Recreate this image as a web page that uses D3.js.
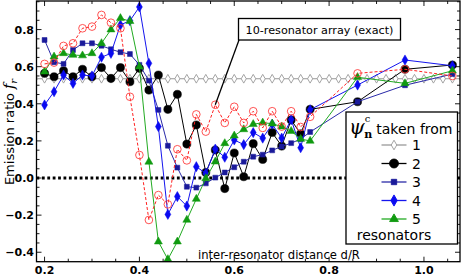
<!DOCTYPE html>
<html><head><meta charset="utf-8">
<script src="https://cdn.jsdelivr.net/npm/d3@7"></script>
<style>body{margin:0;background:#fff}svg{display:block}</style>
</head><body><svg id="c" width="462" height="275"></svg>
<script>
// ---- data ----
const xDense = [0.20,0.22,0.24,0.26,0.28,0.30,0.32,0.34,0.36,0.38,0.40,0.42,0.44,0.46,0.48,0.50,0.52,0.54,0.56,0.58,0.60,0.62,0.64,0.66,0.68,0.70,0.72,0.74,0.76,0.86,0.96,1.06];
const xGray = [0.18,0.20,0.22,0.24,0.26,0.28,0.30,0.32,0.34,0.36,0.38,0.40,0.42,0.44,0.46,0.48,0.50,0.52,0.54,0.56,0.58,0.60,0.62,0.64,0.66,0.68,0.70,0.72,0.74,0.76,0.78,0.80,0.82,0.84,0.86,0.88,0.90,0.92,0.94,0.96,0.98,1.00,1.02,1.04,1.06,1.08];
const s1 = [0.535,0.535,0.535,0.535,0.535,0.535,0.535,0.535,0.535,0.535,0.535,0.535,0.535,0.535,0.535,0.535,0.535,0.535,0.535,0.535,0.535,0.535,0.535,0.535,0.535,0.535,0.535,0.535,0.535,0.535,0.535,0.535,0.535,0.535,0.535,0.535,0.535,0.535,0.535,0.535,0.535,0.535,0.535,0.535,0.535,0.535];
const s2 = [0.564,0.546,0.578,0.546,0.586,0.546,0.595,0.537,0.595,0.519,0.591,0.474,0.555,0.37,0.451,0.183,0.286,0.03,0.151,-0.057,0.135,0.007,0.185,0.10,0.245,0.172,0.313,0.238,0.37,0.411,0.586,0.609];
const s3 = [0.744,0.624,0.615,0.69,0.726,0.726,0.713,0.694,0.678,0.668,0.61,0.525,0.367,0.174,0.056,-0.047,-0.052,-0.029,0.002,0.03,0.058,0.088,0.115,0.126,0.149,0.17,0.188,0.21,0.248,0.411,0.50,0.56];
const s4 = [0.394,0.465,0.555,0.51,0.555,0.55,0.651,0.672,0.825,0.848,0.922,0.618,0.277,-0.196,-0.1,-0.151,0.061,0.025,0.156,0.112,0.205,0.18,0.245,0.215,0.29,0.215,0.315,0.163,0.368,0.501,0.636,0.605];
const s5 = [0.573,0.654,0.672,0.663,0.66,0.672,0.726,0.80,0.861,0.845,0.6,0.087,-0.343,-0.438,-0.343,-0.226,-0.113,-0.002,0.088,0.187,0.228,0.262,0.29,0.298,0.293,0.277,0.253,0.21,0.2,0.543,0.51,0.578];
const exact = [0.615,0.622,0.712,0.726,0.807,0.816,0.879,0.837,0.807,0.438,0.124,-0.226,-0.092,-0.142,0.155,0.095,0.343,0.25,0.395,0.297,0.384,0.297,0.36,0.27,0.36,0.277,0.36,0.275,0.33,0.564,0.586,0.55];
const xTicks = [0.2,0.4,0.6,0.8,1.0];
const yTicks = [-0.4,-0.2,0.0,0.2,0.4,0.6,0.8];
const legendLabels = ["1","2","3","4","5"];
const annotationText = "10-resonator array (exact)";
const annotationIndex = 18; // x = 0.56 on the exact curve

// ---- layout ----
const svg = d3.select("#c");
const L = 36.5, R = 460, T = 1, B = 261.7;
const x = d3.scaleLinear().domain([0.183, 1.076]).range([L, R]);
const y = d3.scaleLinear().domain([-0.451, 0.954]).range([B, T]);
const font = "DejaVu Sans, sans-serif";

svg.append("defs").append("clipPath").attr("id","clip")
  .append("rect").attr("x",L).attr("y",T).attr("width",R-L).attr("height",B-T);

// zero dotted line
svg.append("line").attr("x1",L).attr("x2",R).attr("y1",y(0)).attr("y2",y(0))
  .attr("stroke","#000").attr("stroke-width",3).attr("stroke-dasharray","2.8,2.6");

const plot = svg.append("g").attr("clip-path","url(#clip)");

const series = [
  {xs:xGray, ys:s1, line:"#9a9a9a", sym:d3.symbolDiamond, size:22, fill:"#fff", stroke:"#9a9a9a", dash:null},
  {xs:xDense, ys:s2, line:"#000", sym:d3.symbolCircle, size:52, fill:"#000", stroke:"#000", dash:null},
  {xs:xDense, ys:s3, line:"#2a2aa8", sym:d3.symbolSquare, size:24, fill:"#1a1a9a", stroke:"#1a1a9a", dash:null},
  {xs:xDense, ys:s4, line:"#1515ee", sym:d3.symbolDiamond, size:30, fill:"#0a0af0", stroke:"#0a0af0", dash:null},
  {xs:xDense, ys:s5, line:"#22aa22", sym:d3.symbolTriangle, size:28, fill:"#109a10", stroke:"#109a10", dash:null},
  {xs:xDense, ys:exact, line:"#ff2020", sym:d3.symbolCircle, size:46, fill:"none", stroke:"#ff4040", dash:"3,2"}
];
const lineGen = d3.line().x(d=>x(d[0])).y(d=>y(d[1]));
series.forEach(s=>{
  const pts = s.xs.map((v,i)=>[v,s.ys[i]]);
  plot.append("path").attr("d",lineGen(pts)).attr("fill","none")
    .attr("stroke",s.line).attr("stroke-width",1).attr("stroke-dasharray",s.dash);
  plot.selectAll(null).data(pts).enter().append("path")
    .attr("d",d3.symbol().type(s.sym).size(s.size))
    .attr("transform",d=>`translate(${x(d[0])},${y(d[1])})`)
    .attr("fill",s.fill).attr("stroke",s.stroke).attr("stroke-width",s.fill==="none"||s.fill==="#fff"?0.9:0.5);
});

// frame
svg.append("rect").attr("x",L).attr("y",T).attr("width",R-L).attr("height",B-T)
  .attr("fill","none").attr("stroke","#000").attr("stroke-width",1.3);

// ticks (inward, all four sides)
const xMinor = d3.range(0.2, 1.076, 0.05).map(v=>+v.toFixed(2));
const yMinor = d3.range(-0.45, 0.954, 0.05).map(v=>+v.toFixed(2));
const tk = svg.append("g").attr("stroke","#000").attr("stroke-width",0.9);
xMinor.forEach(v=>{
  const major = xTicks.some(t=>Math.abs(t-v)<1e-6);
  const len = major?5:3;
  tk.append("line").attr("x1",x(v)).attr("x2",x(v)).attr("y1",B).attr("y2",B-len);
  tk.append("line").attr("x1",x(v)).attr("x2",x(v)).attr("y1",T).attr("y2",T+len);
});
yMinor.forEach(v=>{
  const major = yTicks.some(t=>Math.abs(t-v)<1e-6);
  const len = major?5:3;
  tk.append("line").attr("y1",y(v)).attr("y2",y(v)).attr("x1",L).attr("x2",L+len);
  tk.append("line").attr("y1",y(v)).attr("y2",y(v)).attr("x1",R).attr("x2",R-len);
});

// tick labels
svg.selectAll(null).data(xTicks).enter().append("text")
  .attr("x",d=>x(d)).attr("y",273.5).attr("text-anchor","middle")
  .attr("font-family",font).attr("font-weight","bold").attr("font-size",11)
  .text(d=>d3.format(".1f")(d));
svg.selectAll(null).data(yTicks).enter().append("text")
  .attr("x",34).attr("y",d=>y(d)+4).attr("text-anchor","end")
  .attr("font-family",font).attr("font-weight","bold").attr("font-size",11)
  .text(d=>d3.format(".1f")(d).replace("-","\u2212"));

// y label
const yl = svg.append("text").attr("transform","translate(14,132) rotate(-90)")
  .attr("text-anchor","middle").attr("font-family",font).attr("font-size",13);
yl.append("tspan").text("Emission ratio ");
yl.append("tspan").attr("font-family","DejaVu Serif, serif").attr("font-style","italic").attr("font-size",14.5).text("f");
yl.append("tspan").attr("font-family","DejaVu Serif, serif").attr("font-style","italic").attr("font-size",10).attr("dy",2.5).text("r");

// x label
svg.append("text").attr("x",198).attr("y",259).attr("font-family",font).attr("font-size",11.6)
  .text("inter-resonator distance d/R");

// annotation
const ax = x(xDense[annotationIndex]), ay = y(exact[annotationIndex]);
svg.append("line").attr("x1",ax).attr("y1",ay).attr("x2",239).attr("y2",40)
  .attr("stroke","#000").attr("stroke-width",1.3);
svg.append("rect").attr("x",238.5).attr("y",18.5).attr("width",162).attr("height",21.5)
  .attr("fill","#fff").attr("stroke","#000").attr("stroke-width",1.3);
svg.append("text").attr("x",319.5).attr("y",33.5).attr("text-anchor","middle")
  .attr("font-family",font).attr("font-size",11.2).text(annotationText);

// legend
const lg = svg.append("g");
lg.append("rect").attr("x",346).attr("y",112).attr("width",111.5).attr("height",132)
  .attr("fill","#fff").attr("stroke","#000").attr("stroke-width",1.3);
const title = lg.append("text").attr("x",349).attr("y",134).attr("font-family",font).attr("font-size",14);
title.append("tspan").attr("font-family","DejaVu Serif, serif").attr("font-style","italic").attr("font-size",20).text("\u03C8");
title.append("tspan").attr("font-family","DejaVu Serif, serif").attr("font-size",10).attr("dy",-12).text("c");
title.append("tspan").attr("font-family","DejaVu Serif, serif").attr("font-weight","bold").attr("font-size",11).attr("dx",-6).attr("dy",16).text("n");
title.append("tspan").attr("dy",-4).attr("dx",4).text("taken from");
const ly = [145,163.5,182,200.5,219];
series.slice(0,5).forEach((s,i)=>{
  lg.append("line").attr("x1",381.5).attr("x2",406.5).attr("y1",ly[i]).attr("y2",ly[i])
    .attr("stroke",s.line).attr("stroke-width",1.3);
  lg.append("path").attr("d",d3.symbol().type(s.sym).size(s.size*1.2))
    .attr("transform",`translate(394,${ly[i]})`).attr("fill",s.fill).attr("stroke",s.stroke).attr("stroke-width",0.9);
  lg.append("text").attr("x",412).attr("y",ly[i]+5).attr("font-family",font).attr("font-size",14)
    .text(legendLabels[i]);
});
lg.append("text").attr("x",394).attr("y",240).attr("text-anchor","middle")
  .attr("font-family",font).attr("font-size",14).text("resonators");
</script></body></html>
